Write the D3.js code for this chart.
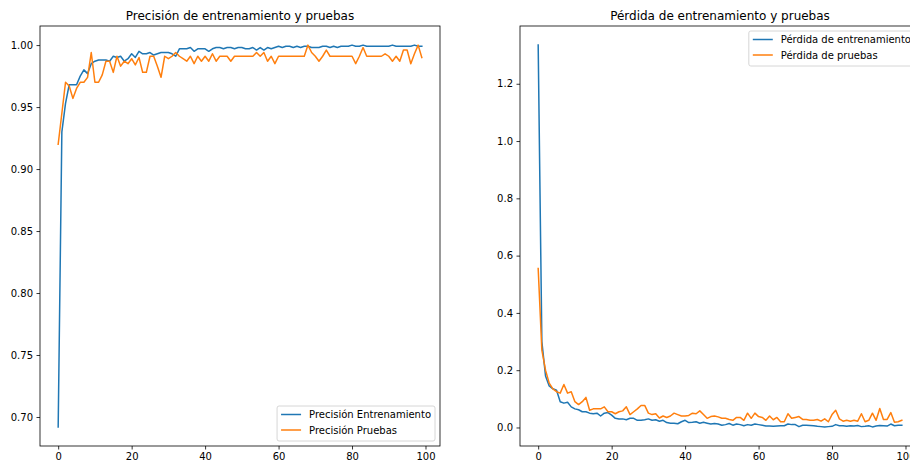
<!DOCTYPE html>
<html>
<head>
<meta charset="utf-8">
<script src="https://cdn.jsdelivr.net/npm/d3@7"></script>
<style>
  body { margin: 0; background: #fff; }
  svg { display: block; font-family: "DejaVu Sans", sans-serif; }
</style>
</head>
<body>
<svg id="chart" width="910" height="463"></svg>
<script>
// ---------- data ----------
const epochs = d3.range(100);

const accTrain = [0.692,0.930,0.953,0.968,0.968,0.968,0.975,0.980,0.977,0.985,
  0.987,0.988,0.988,0.988,0.987,0.991,0.990,0.991,0.987,0.989,
  0.993,0.990,0.995,0.993,0.993,0.994,0.992,0.993,0.994,0.994,
  0.994,0.993,0.991,0.997,0.997,0.997,0.998,0.995,0.997,0.997,
  0.997,0.995,0.997,0.998,0.998,0.997,0.998,0.998,0.997,0.998,
  0.998,0.997,0.997,0.998,0.996,0.998,0.996,0.998,0.997,0.998,
  0.999,0.998,0.999,0.999,0.998,0.999,0.998,0.999,0.999,0.998,
  0.998,0.998,0.999,0.999,0.998,0.999,0.998,0.999,0.999,0.999,
  1.000,0.999,0.999,1.000,0.999,0.999,0.999,0.999,0.999,0.999,
  0.999,1.000,0.999,0.999,0.999,0.999,0.999,1.000,0.999,0.999];

const accTest = [0.920,0.945,0.970,0.967,0.957,0.965,0.970,0.970,0.974,0.994,
  0.970,0.970,0.976,0.987,0.987,0.978,0.991,0.983,0.987,0.985,
  0.989,0.984,0.990,0.978,0.978,0.991,0.991,0.983,0.974,0.991,
  0.989,0.991,0.994,0.991,0.989,0.987,0.991,0.985,0.991,0.987,
  0.991,0.987,0.993,0.987,0.991,0.991,0.991,0.987,0.991,0.991,
  0.991,0.991,0.991,0.991,0.994,0.991,0.994,0.987,0.991,0.985,
  0.991,0.991,0.991,0.991,0.991,0.991,0.991,0.991,1.000,0.994,
  0.991,0.987,0.991,0.996,0.991,0.991,0.991,0.991,0.991,0.991,
  0.991,0.985,0.991,0.998,0.991,0.991,0.991,0.991,0.991,0.993,
  0.991,0.987,0.991,0.987,0.996,0.996,0.985,0.993,1.000,0.990];

const lossTrain = [1.335,0.300,0.180,0.145,0.135,0.130,0.090,0.085,0.088,0.072,
  0.065,0.062,0.055,0.055,0.050,0.048,0.050,0.040,0.050,0.052,
  0.043,0.032,0.030,0.030,0.027,0.032,0.032,0.025,0.025,0.027,
  0.030,0.025,0.027,0.022,0.025,0.017,0.015,0.015,0.013,0.020,
  0.025,0.017,0.018,0.020,0.015,0.018,0.015,0.012,0.014,0.012,
  0.008,0.010,0.014,0.008,0.012,0.010,0.006,0.010,0.008,0.012,
  0.010,0.008,0.005,0.005,0.004,0.005,0.006,0.006,0.012,0.010,
  0.010,0.003,0.008,0.008,0.007,0.006,0.004,0.003,0.002,0.003,
  0.004,0.010,0.006,0.006,0.004,0.006,0.005,0.007,0.003,0.004,
  0.006,0.002,0.005,0.007,0.006,0.005,0.012,0.006,0.008,0.008];

const lossTest = [0.555,0.270,0.200,0.155,0.135,0.125,0.120,0.150,0.120,0.125,
  0.090,0.080,0.090,0.105,0.060,0.065,0.065,0.065,0.072,0.055,
  0.055,0.048,0.055,0.058,0.072,0.045,0.055,0.065,0.077,0.077,
  0.050,0.045,0.048,0.033,0.040,0.035,0.040,0.050,0.045,0.040,
  0.040,0.042,0.050,0.048,0.058,0.045,0.032,0.038,0.040,0.037,
  0.032,0.032,0.028,0.025,0.035,0.035,0.025,0.050,0.032,0.050,
  0.038,0.035,0.025,0.040,0.027,0.035,0.020,0.020,0.048,0.032,
  0.035,0.038,0.028,0.028,0.025,0.025,0.028,0.022,0.030,0.020,
  0.045,0.060,0.030,0.022,0.025,0.022,0.025,0.022,0.048,0.020,
  0.025,0.050,0.025,0.066,0.028,0.028,0.052,0.018,0.020,0.025];

const xTicks = [0, 20, 40, 60, 80, 100];
const accTicks = [0.70, 0.75, 0.80, 0.85, 0.90, 0.95, 1.00];
const lossTicks = [0.0, 0.2, 0.4, 0.6, 0.8, 1.0, 1.2];

const titles = ["Precisión de entrenamiento y pruebas", "Pérdida de entrenamiento y pruebas"];
const accLabels = ["Precisión Entrenamiento", "Precisión Pruebas"];
const lossLabels = ["Pérdida de entrenamiento", "Pérdida de pruebas"];
const colors = ["#1f77b4", "#ff7f0e"];

// ---------- drawing ----------
const svg = d3.select("#chart");

function padDomain(arrs) {
  const all = [].concat(...arrs);
  const lo = d3.min(all), hi = d3.max(all), r = hi - lo;
  return [lo - 0.05 * r, hi + 0.05 * r];
}

function panel(opts) {
  const {left, top, width, height, series, labels, yTicks, yFmt, title, legendLoc} = opts;
  const g = svg.append("g");
  const x = d3.scaleLinear().domain(padDomain([epochs])).range([left, left + width]);
  const y = d3.scaleLinear().domain(padDomain(series)).range([top + height, top]);

  // lines
  const line = d3.line().x((d, i) => x(epochs[i])).y(d => y(d));
  series.forEach((s, k) => {
    g.append("path").datum(s)
      .attr("d", line)
      .attr("fill", "none")
      .attr("stroke", colors[k])
      .attr("stroke-width", 1.5)
      .attr("stroke-linejoin", "round")
      .attr("stroke-linecap", "square");
  });

  // axes
  const xAxis = d3.axisBottom(x).tickValues(xTicks).tickSize(3.5).tickPadding(3.5).tickFormat(d3.format("d"));
  const yAxis = d3.axisLeft(y).tickValues(yTicks).tickSize(3.5).tickPadding(3.5).tickFormat(d3.format(yFmt));
  const gx = g.append("g").attr("transform", `translate(0,${top + height})`).call(xAxis);
  const gy = g.append("g").attr("transform", `translate(${left},0)`).call(yAxis);
  [gx, gy].forEach(a => {
    a.select(".domain").remove();
    a.selectAll("line").attr("stroke", "#000").attr("stroke-width", 0.8);
    a.selectAll("text").attr("fill", "#000").attr("font-size", 10)
      .attr("font-family", "DejaVu Sans, sans-serif");
  });

  // frame
  g.append("rect").attr("x", left).attr("y", top).attr("width", width).attr("height", height)
    .attr("fill", "none").attr("stroke", "#000").attr("stroke-width", 0.8);

  // title
  g.append("text").attr("x", left + width / 2).attr("y", top - 6)
    .attr("text-anchor", "middle").attr("font-size", 12).attr("fill", "#000").text(title);

  // legend
  const lg = g.append("g");
  const box = lg.append("rect");
  const texts = labels.map((lab, k) => lg.append("text").attr("font-size", 10).attr("fill", "#000").text(lab));
  const tw = d3.max(texts, t => t.node().getComputedTextLength());
  const bw = 4 + 20 + 8 + tw + 4;
  const bh = 35;
  const bx = legendLoc === "lower right" ? left + width - 5 - bw : left + width - 5 - bw;
  const by = legendLoc === "lower right" ? top + height - 5 - bh : top + 5;
  box.attr("x", bx).attr("y", by).attr("width", bw).attr("height", bh)
    .attr("rx", 2).attr("fill", "#fff").attr("fill-opacity", 0.8)
    .attr("stroke", "#cccccc").attr("stroke-width", 0.8);
  labels.forEach((lab, k) => {
    const cy = by + 8.5 + k * 15.5;
    lg.append("line").attr("x1", bx + 4).attr("x2", bx + 24).attr("y1", cy).attr("y2", cy)
      .attr("stroke", colors[k]).attr("stroke-width", 1.5);
    texts[k].attr("x", bx + 32).attr("y", cy).attr("dy", "0.35em");
  });
}

panel({left: 40, top: 26, width: 400, height: 420, series: [accTrain, accTest], labels: accLabels,
  yTicks: accTicks, yFmt: ".2f", title: titles[0], legendLoc: "lower right"});
panel({left: 520, top: 26, width: 400, height: 420, series: [lossTrain, lossTest], labels: lossLabels,
  yTicks: lossTicks, yFmt: ".1f", title: titles[1], legendLoc: "upper right"});
</script>
</body>
</html>
